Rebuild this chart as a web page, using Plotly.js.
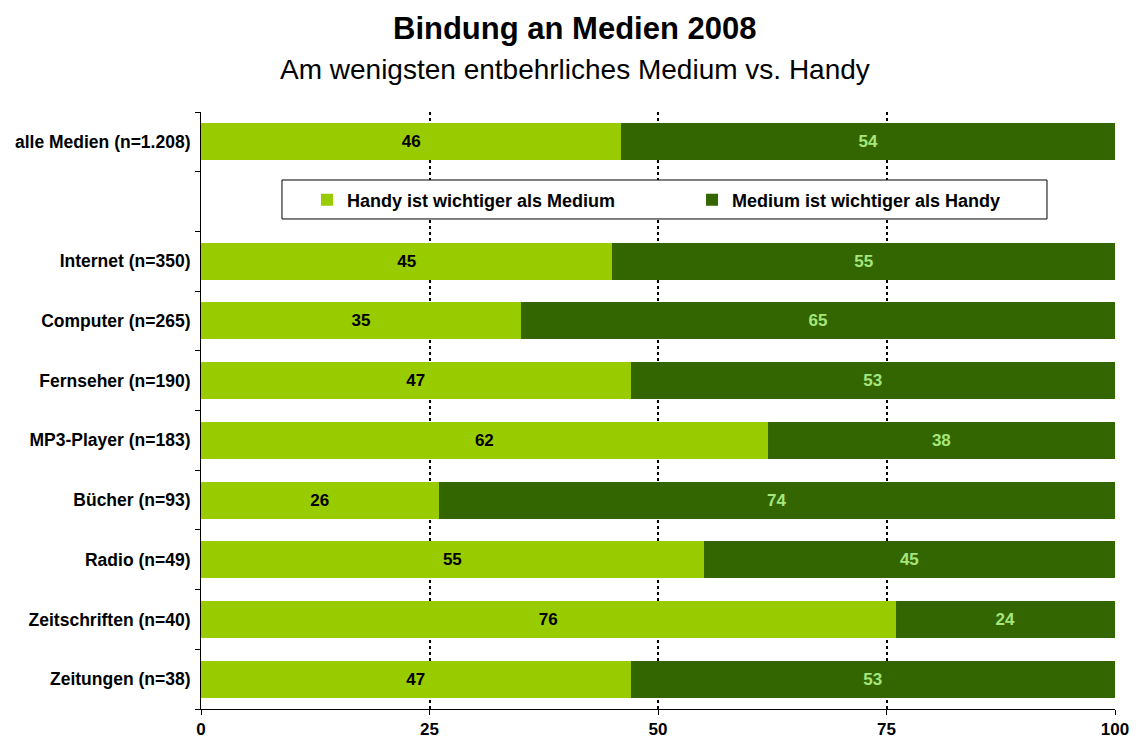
<!DOCTYPE html>
<html>
<head>
<meta charset="utf-8">
<script src="https://cdn.plot.ly/plotly-3.0.1.min.js"></script>
<style>html,body{margin:0;padding:0;background:#fff;}#chart{width:1136px;height:740px;}</style>
</head>
<body>
<div id="chart"></div>
<script>
const categories = ["alle Medien (n=1.208)", " ", "Internet (n=350)", "Computer (n=265)", "Fernseher (n=190)", "MP3-Player (n=183)", "Bücher (n=93)", "Radio (n=49)", "Zeitschriften (n=40)", "Zeitungen (n=38)"];
const handyWichtiger = [46, null, 45, 35, 47, 62, 26, 55, 76, 47];
const mediumWichtiger = [54, null, 55, 65, 53, 38, 74, 45, 24, 53];
const seriesNames = ["Handy ist wichtiger als Medium", "Medium ist wichtiger als Handy"];
const xTicks = [0, 25, 50, 75, 100];

const FONT = "Liberation Sans, Arial, sans-serif";

const traces = [
  {
    type: "bar", orientation: "h", name: seriesNames[0],
    y: categories, x: handyWichtiger,
    marker: {color: "#99cc00"},
    text: handyWichtiger.map(v => v == null ? "" : "<b>" + v + "</b>"),
    textposition: "inside", insidetextanchor: "middle", constraintext: "none",
    textfont: {family: FONT, size: 17, color: "#000000"},
    hoverinfo: "skip"
  },
  {
    type: "bar", orientation: "h", name: seriesNames[1],
    y: categories, x: mediumWichtiger,
    marker: {color: "#336600"},
    text: mediumWichtiger.map(v => v == null ? "" : "<b>" + v + "</b>"),
    textposition: "inside", insidetextanchor: "middle", constraintext: "none",
    textfont: {family: FONT, size: 17, color: "#a6e67c"},
    hoverinfo: "skip"
  }
];

const layout = {
  width: 1136, height: 740,
  margin: {l: 201, r: 21, t: 112, b: 31, pad: 0},
  paper_bgcolor: "#ffffff", plot_bgcolor: "#ffffff",
  barmode: "stack", bargap: 0.38,
  font: {family: FONT, color: "#000000"},
  showlegend: true,
  legend: {
    orientation: "h", x: 0.116, xanchor: "left", y: 0.8526, yanchor: "middle",
    bgcolor: "rgba(0,0,0,0)", borderwidth: 0,
    entrywidth: 340, entrywidthmode: "pixels",
    font: {family: FONT, size: 18, color: "#000000", weight: "bold"},
    traceorder: "normal"
  },
  xaxis: {
    range: [0, 100], tickvals: xTicks, ticktext: xTicks.map(v => "<b>" + v + "</b>"),
    ticks: "outside", ticklen: 5, tickcolor: "#000", tickwidth: 1,
    showline: true, linecolor: "#000", linewidth: 1,
    showgrid: true, gridcolor: "#000", gridwidth: 2, griddash: "dot",
    zeroline: false, fixedrange: true,
    tickfont: {family: FONT, size: 17, color: "#000"}
  },
  yaxis: {
    type: "category", autorange: "reversed",
    categoryorder: "array", categoryarray: categories,
    tickvals: categories, ticktext: categories.map(c => "<b>" + c + "</b>"),
    ticks: "outside", tickson: "boundaries", ticklen: 5, tickcolor: "#000", tickwidth: 1,
    showline: true, linecolor: "#000", linewidth: 1,
    showgrid: false, zeroline: false, fixedrange: true,
    ticklabelstandoff: 6,
    tickfont: {family: FONT, size: 17.5, color: "#000"}
  },
  shapes: [
    {type: "rect", xref: "paper", yref: "paper", x0: 0.0886, x1: 0.9256, y0: 0.8208, y1: 0.8861,
     fillcolor: "#ffffff", line: {color: "#000", width: 1}, layer: "above"}
  ],
  annotations: [
    {xref: "paper", yref: "paper", x: 0.409, y: 1.1407, xanchor: "center", yanchor: "middle",
     text: "<b>Bindung an Medien 2008</b>", showarrow: false,
     font: {family: FONT, size: 31, color: "#000"}},
    {xref: "paper", yref: "paper", x: 0.409, y: 1.0704, xanchor: "center", yanchor: "middle",
     text: "Am wenigsten entbehrliches Medium vs. Handy", showarrow: false,
     font: {family: FONT, size: 28, color: "#000"}}
  ]
};

Plotly.newPlot("chart", traces, layout, {displayModeBar: false, staticPlot: true});
</script>
</body>
</html>
